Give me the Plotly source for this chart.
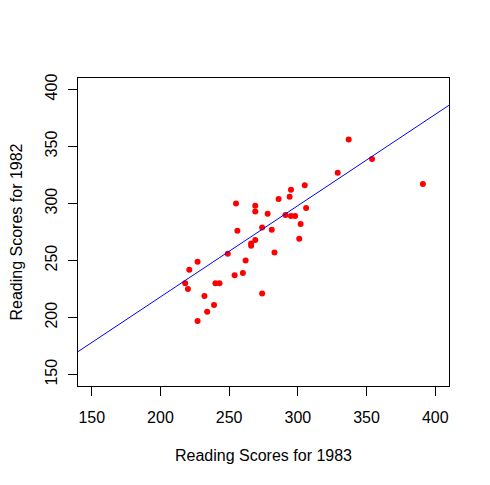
import plotly.graph_objects as go

# Reading scores
scores_1983 = [337, 354, 329, 391, 305, 295, 294, 286, 255, 269, 269, 306, 278, 291,
               295, 298, 302, 274, 281, 256, 301, 269, 266, 266, 283, 249, 262, 227,
               221, 260, 254, 218, 240, 243, 220, 274, 232, 239, 234, 227]
scores_1982 = [356, 339, 327, 317, 316, 312, 306, 304, 300, 298, 293, 296, 291, 290,
               289, 289, 282, 279, 277, 276, 269, 268, 265, 263, 257, 256, 250, 249,
               242, 239, 237, 230, 230, 230, 225, 221, 219, 211, 205, 197]

# Fitted line (intercept, slope)
abline_intercept = 58.1
abline_slope = 0.8

tick_vals = [150, 200, 250, 300, 350, 400]
x_range = [140, 410]
y_range = [140, 410]

FONT = "Liberation Sans, Arial, Helvetica, sans-serif"

fig = go.Figure()
fig.add_trace(go.Scatter(
    x=scores_1983, y=scores_1982, mode="markers",
    marker=dict(color="#FF0000", size=6, line=dict(width=0)),
    showlegend=False, hoverinfo="skip"))

line_x = x_range
line_y = [abline_intercept + abline_slope * v for v in line_x]
fig.add_trace(go.Scatter(
    x=line_x, y=line_y, mode="lines",
    line=dict(color="#0000FF", width=1),
    showlegend=False, hoverinfo="skip"))

axis_common = dict(
    showgrid=False, zeroline=False, automargin=False,
    showline=True, mirror=True, linecolor="#000000", linewidth=1,
    ticks="outside", ticklen=9, tickwidth=1, tickcolor="#000000",
    tickvals=tick_vals, ticktext=[str(v) for v in tick_vals],
    tickfont=dict(family=FONT, size=16, color="#000000"),
)

# the page body adds an 8px offset, so the figure is sized to fit the window
fig.update_layout(
    width=482, height=477,
    margin=dict(l=70, r=41, t=70, b=99),
    paper_bgcolor="white", plot_bgcolor="white",
    font=dict(family=FONT, size=16, color="#000000"),
    xaxis=dict(range=x_range, ticklabelstandoff=8, **axis_common,
               title=dict(text="Reading Scores for 1983", standoff=24,
                          font=dict(family=FONT, size=16, color="#000000"))),
    yaxis=dict(range=y_range, tickangle=-90, ticklabelstandoff=5, **axis_common,
               title=dict(text="Reading Scores for 1982", standoff=23,
                          font=dict(family=FONT, size=16, color="#000000"))),
)

fig.write_html("out.html")
